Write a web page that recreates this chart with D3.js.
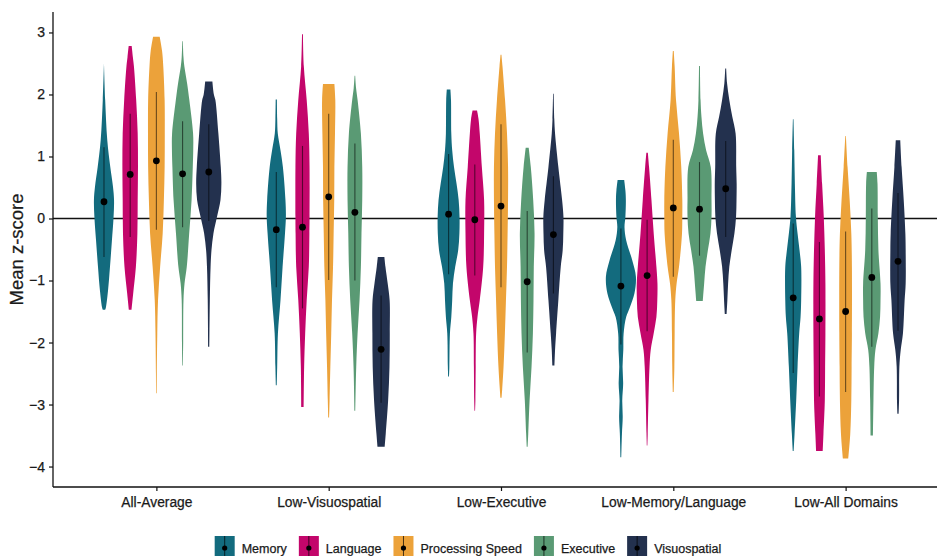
<!DOCTYPE html>
<html lang="en">
<head>
<meta charset="UTF-8">
<title>Mean z-score by profile</title>
<style>
  body { margin: 0; background: #fff; }
  text { font-family: "Liberation Sans", Arial, sans-serif; fill: #1a1a1a; stroke: #1a1a1a; stroke-width: 0.25px; }
</style>
</head>
<body>
<script src="https://cdn.jsdelivr.net/npm/d3@7"></script>
<script>
// profiles on the x axis
let groups = ['All-Average', 'Low-Visuospatial', 'Low-Executive', 'Low-Memory/Language', 'Low-All Domains'];
let domains = ['Memory', 'Language', 'Processing Speed', 'Executive', 'Visuospatial'];
let colors = ['#136b7e', '#c3066b', '#eca23a', '#5a9a74', '#23314e'];
let yTicks = [-4, -3, -2, -1, 0, 1, 2, 3];

// means, one value per profile
let memoryMean = [0.27, -0.18, 0.07, -1.09, -1.28];
let languageMean = [0.71, -0.14, -0.02, -0.92, -1.62];
let speedMean = [0.93, 0.35, 0.20, 0.17, -1.50];
let executiveMean = [0.72, 0.10, -1.02, 0.15, -0.95];
let visuoMean = [0.75, -2.11, -0.26, 0.48, -0.69];

// vertical bars [low, high]
let memoryBar = [[-0.62, 1.15], [-1.11, 0.75], [-0.90, 1.04], [-2.03, -0.16], [-2.49, -0.08]];
let languageBar = [[-0.30, 1.69], [-1.45, 1.17], [-0.92, 0.87], [-1.82, -0.02], [-2.87, -0.38]];
let speedBar = [[-0.18, 2.04], [-0.99, 1.69], [-1.11, 1.52], [-0.94, 1.27], [-2.80, -0.21]];
let executiveBar = [[-0.14, 1.57], [-1.00, 1.21], [-2.16, 0.12], [-0.60, 0.91], [-2.07, 0.16]];
let visuoBar = [[-0.04, 1.52], [-2.97, -1.24], [-1.21, 0.68], [-0.30, 1.25], [-1.81, 0.41]];

// violin outlines: [z, relative density], top to bottom
let memoryDensity = [
  [[2.50,0],[1.91,0.08],[1.26,0.22],[0.83,0.42],[0.51,0.6],[0.30,0.67],[0.03,0.64],[-0.35,0.53],[-0.78,0.4],[-1.16,0.27],[-1.43,0.13],[-1.47,0.08]],
  [[1.92,0.04],[1.6,0.06],[1.37,0.1],[1.1,0.28],[0.83,0.44],[0.30,0.61],[0.03,0.64],[-0.24,0.58],[-0.78,0.42],[-1.32,0.28],[-1.85,0.11],[-2.39,0.06],[-2.69,0.03]],
  [[2.08,0.12],[1.91,0.16],[1.37,0.18],[1.10,0.24],[0.83,0.36],[0.56,0.53],[0.30,0.67],[0.03,0.73],[-0.24,0.72],[-0.51,0.64],[-0.78,0.44],[-1.05,0.29],[-1.32,0.24],[-1.59,0.18],[-1.85,0.09],[-2.39,0.05],[-2.55,0.03]],
  [[0.62,0.22],[0.45,0.3],[0.30,0.33],[0.03,0.3],[-0.14,0.24],[-0.35,0.35],[-0.67,0.75],[-0.94,1.0],[-1.21,0.9],[-1.43,0.6],[-1.59,0.35],[-1.86,0.18],[-2.12,0.16],[-2.39,0.11],[-2.66,0.15],[-2.93,0.09],[-3.2,0.12],[-3.47,0.07],[-3.85,0.03]],
  [[1.60,0.02],[1.10,0.07],[0.56,0.11],[0.03,0.18],[-0.24,0.29],[-0.51,0.42],[-0.78,0.53],[-1.32,0.53],[-1.59,0.49],[-1.85,0.4],[-2.39,0.29],[-2.93,0.2],[-3.47,0.09],[-3.75,0.03]]
];
let languageDensity = [
  [[2.78,0.1],[2.6,0.18],[2.45,0.25],[1.91,0.4],[1.37,0.5],[0.83,0.52],[0.30,0.5],[-0.24,0.48],[-0.78,0.38],[-1.21,0.2],[-1.47,0.09]],
  [[2.97,0.03],[2.45,0.09],[1.91,0.28],[1.37,0.42],[0.83,0.47],[0.03,0.47],[-0.24,0.46],[-0.78,0.42],[-1.32,0.28],[-1.85,0.18],[-2.39,0.11],[-3.04,0.08]],
  [[1.74,0.15],[1.6,0.25],[1.37,0.33],[0.83,0.47],[0.30,0.62],[-0.24,0.62],[-0.78,0.56],[-1.32,0.33],[-1.59,0.18],[-1.85,0.09],[-2.39,0.06],[-2.93,0.04],[-3.10,0.02]],
  [[1.06,0.05],[0.83,0.13],[0.30,0.29],[-0.24,0.44],[-0.78,0.62],[-1.05,0.69],[-1.32,0.68],[-1.59,0.62],[-1.85,0.44],[-2.12,0.24],[-2.39,0.16],[-2.93,0.09],[-3.47,0.04],[-3.66,0.02]],
  [[1.02,0.09],[0.56,0.18],[0.03,0.29],[-0.51,0.36],[-1.05,0.4],[-1.85,0.4],[-2.39,0.38],[-2.93,0.36],[-3.47,0.27],[-3.75,0.22]]
];
let speedDensity = [
  [[2.93,0.22],[2.7,0.38],[2.45,0.46],[1.91,0.55],[1.37,0.56],[0.83,0.55],[0.30,0.5],[-0.24,0.42],[-0.78,0.25],[-1.32,0.11],[-1.85,0.06],[-2.5,0.03],[-2.82,0.02]],
  [[2.17,0.38],[1.91,0.44],[1.37,0.42],[0.83,0.38],[0.30,0.37],[-0.24,0.33],[-0.78,0.29],[-1.32,0.22],[-1.85,0.17],[-2.39,0.11],[-2.93,0.06],[-3.21,0.03]],
  [[2.64,0.03],[2.45,0.1],[1.91,0.27],[1.37,0.4],[0.83,0.47],[0.30,0.47],[-0.24,0.44],[-0.78,0.4],[-1.32,0.33],[-1.85,0.26],[-2.39,0.17],[-2.75,0.08],[-2.89,0.04]],
  [[2.70,0.03],[2.45,0.09],[1.91,0.18],[1.37,0.38],[0.83,0.53],[0.30,0.6],[0.03,0.6],[-0.24,0.58],[-0.78,0.38],[-1.05,0.22],[-1.32,0.13],[-1.85,0.09],[-2.39,0.07],[-2.80,0.03]],
  [[1.33,0.02],[0.83,0.13],[0.30,0.27],[-0.24,0.38],[-0.78,0.42],[-1.85,0.42],[-2.39,0.4],[-2.93,0.38],[-3.47,0.31],[-3.87,0.18]]
];
let executiveDensity = [
  [[2.86,0.02],[2.6,0.06],[2.45,0.12],[2.18,0.3],[1.91,0.45],[1.37,0.7],[1.1,0.71],[0.83,0.68],[0.30,0.6],[-0.24,0.44],[-0.78,0.28],[-1.05,0.13],[-1.32,0.06],[-2.0,0.04],[-2.37,0.02]],
  [[2.30,0.02],[2.1,0.08],[1.91,0.18],[1.37,0.4],[0.83,0.49],[0.30,0.49],[-0.24,0.44],[-0.78,0.4],[-1.32,0.31],[-1.85,0.18],[-2.39,0.09],[-3.10,0.03]],
  [[1.14,0.1],[0.83,0.24],[0.30,0.4],[-0.24,0.49],[-0.78,0.44],[-1.32,0.42],[-1.85,0.38],[-2.39,0.29],[-2.93,0.16],[-3.47,0.07],[-3.68,0.03]],
  [[2.46,0.03],[1.91,0.07],[1.64,0.13],[1.37,0.24],[1.10,0.44],[0.83,0.75],[0.30,0.8],[0.03,0.8],[-0.24,0.73],[-0.51,0.56],[-0.78,0.4],[-1.05,0.31],[-1.33,0.22]],
  [[0.75,0.33],[0.56,0.38],[0.03,0.4],[-0.51,0.44],[-1.05,0.58],[-1.32,0.58],[-1.59,0.55],[-1.85,0.44],[-2.12,0.24],[-2.39,0.16],[-2.93,0.11],[-3.50,0.08]]
];
let visuoDensity = [
  [[2.21,0.24],[2.0,0.34],[1.91,0.44],[1.37,0.64],[0.83,0.8],[0.56,0.84],[0.30,0.78],[0.04,0.56],[-0.24,0.31],[-0.51,0.18],[-0.78,0.12],[-1.32,0.07],[-2.07,0.04]],
  [[-0.62,0.22],[-0.78,0.29],[-1.05,0.44],[-1.32,0.57],[-1.85,0.58],[-2.39,0.56],[-2.93,0.47],[-3.47,0.31],[-3.68,0.24]],
  [[2.01,0.02],[1.6,0.06],[1.37,0.11],[0.83,0.33],[0.30,0.58],[0.03,0.67],[-0.24,0.66],[-0.51,0.62],[-0.78,0.49],[-1.32,0.33],[-1.85,0.18],[-2.12,0.11],[-2.37,0.07]],
  [[2.42,0.03],[2.18,0.09],[1.91,0.24],[1.64,0.44],[1.37,0.66],[0.83,0.7],[0.56,0.73],[0.30,0.72],[0.03,0.69],[-0.24,0.58],[-0.51,0.4],[-0.78,0.24],[-1.05,0.16],[-1.32,0.11],[-1.54,0.06]],
  [[1.26,0.15],[0.83,0.24],[0.30,0.38],[-0.24,0.49],[-0.51,0.51],[-1.05,0.51],[-1.32,0.44],[-1.85,0.33],[-2.12,0.18],[-2.39,0.09],[-2.93,0.07],[-3.15,0.04]]
];

let means = [memoryMean, languageMean, speedMean, executiveMean, visuoMean];
let bars = [memoryBar, languageBar, speedBar, executiveBar, visuoBar];
let densities = [memoryDensity, languageDensity, speedDensity, executiveDensity, visuoDensity];

let svgWidth = 937;
let svgHeight = 556;
let padLeft = 53, padTop = 12, padBottom = 487, padRight = 949;

let xScale = d3.scalePoint().domain(groups).range([padLeft, padRight]).padding(0.6);
let inner = d3.scaleBand().domain(domains).range([-65.5, 65.5]);
let yScale = d3.scaleLinear().domain([-4.33, 3.33]).range([padBottom, padTop]);
let wScale = d3.scaleLinear().domain([0, 1]).range([0, 15]);

let svg = d3.select('body').append('svg')
    .attr('width', svgWidth)
    .attr('height', svgHeight);

// zero line
svg.append('line')
    .attr('x1', padLeft).attr('x2', svgWidth)
    .attr('y1', yScale(0)).attr('y2', yScale(0))
    .attr('stroke', '#111').attr('stroke-width', 1.3);

// one record per violin
let rows = [];
domains.forEach((dom, i) => {
    groups.forEach((g, j) => {
        rows.push({
            group: g, domain: dom, color: colors[i],
            mean: means[i][j], bar: bars[i][j], density: densities[i][j],
            cx: xScale(g) + inner(dom) + inner.bandwidth() / 2
        });
    });
});

let violin = svg.selectAll('.violin')
    .data(rows)
    .enter().append('g')
    .attr('class', 'violin');

violin.append('path')
    .attr('fill', d => d.color)
    .attr('d', d => d3.area()
        .curve(d3.curveCatmullRom.alpha(0.5))
        .y(p => yScale(p[0]))
        .x0(p => d.cx - wScale(p[1]))
        .x1(p => d.cx + wScale(p[1]))(d.density));

violin.append('line')
    .attr('x1', d => d.cx).attr('x2', d => d.cx)
    .attr('y1', d => yScale(d.bar[0])).attr('y2', d => yScale(d.bar[1]))
    .attr('stroke', 'rgba(0,0,0,0.55)').attr('stroke-width', 1.1);

violin.append('circle')
    .attr('cx', d => d.cx).attr('cy', d => yScale(d.mean))
    .attr('r', 3.4).attr('fill', '#000');

// axes
let yAxis = d3.axisLeft(yScale).tickValues(yTicks).tickSize(4).tickPadding(4);
let gy = svg.append('g')
    .attr('transform', 'translate(' + padLeft + ',0)')
    .call(yAxis);
gy.select('.domain').attr('d', 'M0,' + padTop + 'V' + padBottom).attr('stroke', '#111').attr('stroke-width', 1.3);
gy.selectAll('line').attr('stroke', '#111').attr('stroke-width', 1.2);
gy.selectAll('text').style('font-size', '14px').attr('fill', '#1a1a1a');

let xAxis = d3.axisBottom(xScale).tickSize(4).tickPadding(6);
let gx = svg.append('g')
    .attr('transform', 'translate(0,' + padBottom + ')')
    .call(xAxis);
gx.select('.domain').attr('d', 'M' + padLeft + ',0H' + svgWidth).attr('stroke', '#111').attr('stroke-width', 1.3);
gx.selectAll('line').attr('stroke', '#111').attr('stroke-width', 1.2);
gx.selectAll('text').style('font-size', '13.8px').attr('fill', '#1a1a1a');

svg.append('text')
    .attr('transform', 'translate(23,' + ((padTop + padBottom) / 2) + ') rotate(-90)')
    .attr('text-anchor', 'middle')
    .style('font-size', '18.5px')
    .text('Mean z-score');

// legend
let legend = svg.append('g').attr('transform', 'translate(0,536)');
let lx = 0;
domains.forEach((dom, i) => {
    let it = legend.append('g').attr('transform', 'translate(' + lx + ',0)');
    it.append('rect').attr('width', 20).attr('height', 22).attr('fill', colors[i]);
    it.append('line').attr('x1', 10).attr('x2', 10).attr('y1', 0).attr('y2', 22)
        .attr('stroke', 'rgba(0,0,0,0.7)').attr('stroke-width', 1);
    it.append('circle').attr('cx', 10).attr('cy', 12).attr('r', 2.6).attr('fill', '#000');
    let t = it.append('text').attr('x', 27).attr('y', 16.5).style('font-size', '12.5px').text(dom);
    lx += 27 + t.node().getComputedTextLength() + 12;
});
let legendWidth = lx - 12;
legend.attr('transform', 'translate(' + (468 - legendWidth / 2) + ',536)');
</script>
</body>
</html>
